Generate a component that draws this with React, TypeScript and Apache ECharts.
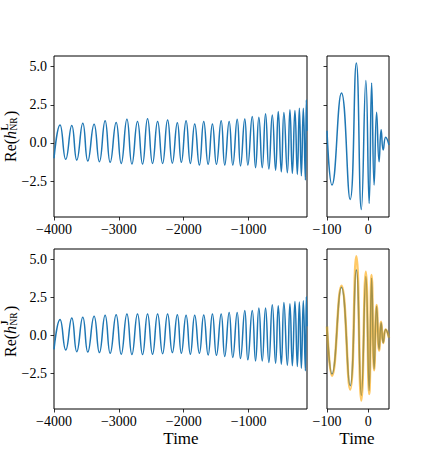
import React, { useEffect, useRef } from "react";
import * as echarts from "echarts";

// Inspiral (left panels): extrema times and values
const INSPIRAL_T = [
  -4000, -3907, -3819, -3726, -3649, -3556, -3479, -3382, -3300, -3212, -3134,
  -3042, -2964, -2876, -2799, -2713, -2635, -2558, -2481, -2403, -2326, -2249,
  -2176, -2099, -2037, -1964, -1898, -1831, -1759, -1692, -1624, -1558, -1496,
  -1423, -1368, -1300, -1244, -1176, -1125, -1059, -1012, -944, -893, -842,
  -790, -739, -688, -635, -584, -543, -496, -456, -403, -363, -326, -286, -249,
  -218, -187, -157, -125, -110, -100,
];
const INSPIRAL_L = [
  -1.0, 1.18, -1.07, 1.14, -1.12, 1.3, -1.18, 1.23, -1.23, 1.45, -1.27, 1.34,
  -1.34, 1.56, -1.38, 1.4, -1.38, 1.58, -1.34, 1.4, -1.34, 1.5, -1.32, 1.32,
  -1.27, 1.45, -1.34, 1.25, -1.45, 1.4, -1.4, 1.25, -1.4, 1.45, -1.45, 1.4,
  -1.45, 1.56, -1.5, 1.57, -1.45, 1.73, -1.62, 1.69, -1.62, 1.91, -1.71, 1.84,
  -1.78, 2.06, -1.89, 1.99, -1.95, 2.17, -1.99, 2.13, -2.06, 2.28, -2.15, 2.28,
  -2.43, 2.83, 0.8,
];
const INSPIRAL_J = [
  -0.92, 1.05, -0.96, 1.15, -1.07, 1.2, -1.09, 1.27, -1.13, 1.33, -1.18, 1.37,
  -1.24, 1.42, -1.26, 1.42, -1.26, 1.42, -1.24, 1.42, -1.2, 1.42, -1.13, 1.37,
  -1.18, 1.33, -1.24, 1.33, -1.18, 1.35, -1.29, 1.42, -1.31, 1.42, -1.39, 1.52,
  -1.46, 1.52, -1.52, 1.65, -1.61, 1.65, -1.68, 1.81, -1.68, 1.81, -1.78, 2.03,
  -1.83, 1.96, -1.9, 2.18, -1.96, 2.09, -2.0, 2.24, -2.05, 2.2, -2.16, 2.28,
  -2.33, 2.57, 0.6,
];

// Merger (right panels)
const MERGER_T = [-100, -88, -65, -44, -29, -17, -6, 2, 8, 14, 20, 26, 31, 36, 42, 50];
const MERGER_L = [0.8, -2.76, 3.27, -3.7, 5.24, -4.36, 4.1, -3.97, 3.93, -2.76, 2.02, -1.23, 0.86, -0.46, 0.37, -0.13];
const MERGER_J = [0.61, -2.55, 3.18, -3.31, 4.31, -3.96, 3.88, -3.64, 3.77, -2.22, 1.92, -0.92, 0.83, -0.48, 0.39, -0.15];
const MERGER_MODEL = [0.6, -2.66, 3.27, -3.57, 5.23, -4.29, 4.2, -3.86, 3.99, -2.3, 2.0, -1.0, 0.9, -0.5, 0.4, -0.15];

const LEFT_X_TICKS = [-4000, -3000, -2000, -1000];
const RIGHT_X_TICKS = [-100, 0];
const Y_TICKS = [-2.5, 0, 2.5, 5];

const SERIF = '"Liberation Serif", "DejaVu Serif", serif';
const BLUE = "#1f77b4";
const ORANGE = "#ffa500";

const minus = (s: string) => s.replace("-", "\u2212");

function pairs(t: number[], v: number[]) {
  return t.map((x, i) => [x, v[i]]);
}

function xAxis(gridIndex: number, min: number, max: number, ticks: number[]) {
  return {
    type: "value",
    gridIndex,
    min,
    max,
    axisLine: { show: false, onZero: false },
    splitLine: { show: false },
    axisTick: {
      show: true,
      customValues: ticks,
      length: 3.5,
      lineStyle: { color: "#000", width: 0.8 },
    },
    axisLabel: {
      show: true,
      customValues: ticks,
      formatter: (v: number) => minus(String(v)),
      color: "#000",
      fontFamily: SERIF,
      fontSize: 14,
      margin: 5,
    },
  };
}

function yAxis(gridIndex: number, showLabel: boolean) {
  return {
    type: "value",
    gridIndex,
    min: -4.85,
    max: 5.7,
    axisLine: { show: false, onZero: false },
    splitLine: { show: false },
    axisTick: {
      show: true,
      customValues: Y_TICKS,
      length: 3.5,
      lineStyle: { color: "#000", width: 0.8 },
    },
    axisLabel: {
      show: showLabel,
      customValues: Y_TICKS,
      formatter: (v: number) => minus(v.toFixed(1)),
      color: "#000",
      fontFamily: SERIF,
      fontSize: 14,
      margin: 7,
    },
  };
}

function lineSeries(ax: number, data: number[][], color: string, width: number, opacity = 1) {
  return {
    type: "line",
    xAxisIndex: ax,
    yAxisIndex: ax,
    data,
    showSymbol: false,
    smooth: 0.5,
    silent: true,
    lineStyle: { color, width, opacity },
  };
}

function yLabel(cy: number, sup: string) {
  return {
    type: "group",
    x: 10,
    y: cy,
    rotation: Math.PI / 2,
    children: [
      { type: "text", x: -26, y: 0, style: { text: "Re(", fontFamily: SERIF, fontSize: 16, fill: "#000", align: "left", verticalAlign: "middle" } },
      { type: "text", x: -3, y: 0, style: { text: "h", fontFamily: SERIF, fontStyle: "italic", fontSize: 16, fill: "#000", align: "left", verticalAlign: "middle" } },
      { type: "text", x: 5.5, y: -5.5, style: { text: sup, fontFamily: SERIF, fontWeight: "bold", fontSize: 10, fill: "#000", align: "left", verticalAlign: "middle" } },
      { type: "text", x: 5.5, y: 4, style: { text: "NR", fontFamily: SERIF, fontSize: 9.5, fill: "#000", align: "left", verticalAlign: "middle" } },
      { type: "text", x: 20, y: 0, style: { text: ")", fontFamily: SERIF, fontSize: 16, fill: "#000", align: "left", verticalAlign: "middle" } },
    ],
  };
}

export default function App() {
  const ref = useRef<HTMLDivElement>(null);

  useEffect(() => {
    if (!ref.current) return;
    const chart = echarts.init(ref.current, undefined, { renderer: "svg" });
    const gridBase = { show: true, borderColor: "#000", borderWidth: 1, backgroundColor: "transparent" };
    chart.setOption({
      animation: false,
      backgroundColor: "#fff",
      grid: [
        { ...gridBase, left: 54, top: 56, width: 253, height: 161 },
        { ...gridBase, left: 327, top: 56, width: 62, height: 161 },
        { ...gridBase, left: 54, top: 249, width: 253, height: 160 },
        { ...gridBase, left: 327, top: 249, width: 62, height: 160 },
      ],
      xAxis: [
        xAxis(0, -4000, -100, LEFT_X_TICKS),
        xAxis(1, -100, 50, RIGHT_X_TICKS),
        xAxis(2, -4000, -100, LEFT_X_TICKS),
        xAxis(3, -100, 50, RIGHT_X_TICKS),
      ],
      yAxis: [yAxis(0, true), yAxis(1, false), yAxis(2, true), yAxis(3, false)],
      series: [
        lineSeries(0, pairs(INSPIRAL_T, INSPIRAL_L), BLUE, 1.5),
        lineSeries(1, pairs(MERGER_T, MERGER_L), BLUE, 1.5),
        lineSeries(2, pairs(INSPIRAL_T, INSPIRAL_J), BLUE, 1.5),
        lineSeries(3, pairs(MERGER_T, MERGER_J), BLUE, 1.5),
        lineSeries(3, pairs(MERGER_T, MERGER_MODEL), ORANGE, 2.5, 0.6),
      ],
      graphic: [
        yLabel(136, "L"),
        yLabel(331, "J"),
        { type: "text", x: 181, y: 438, style: { text: "Time", fontFamily: SERIF, fontSize: 17, fill: "#000", align: "center", verticalAlign: "middle" } },
        { type: "text", x: 357, y: 438, style: { text: "Time", fontFamily: SERIF, fontSize: 17, fill: "#000", align: "center", verticalAlign: "middle" } },
      ],
    });
    return () => chart.dispose();
  }, []);

  return (
    <div
      ref={ref}
      style={{ position: "fixed", left: 0, top: 0, width: 432, height: 468 }}
    />
  );
}
